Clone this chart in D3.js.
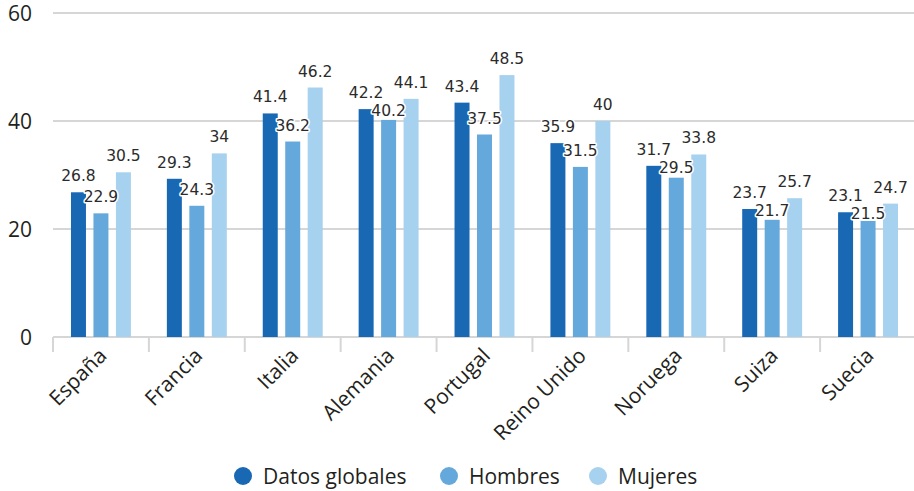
<!DOCTYPE html>
<html>
<head>
<meta charset="utf-8">
<script src="https://cdn.jsdelivr.net/npm/d3@7"></script>
<style>
  html, body { margin: 0; padding: 0; background: #fff; }
  svg { display: block; }
</style>
</head>
<body>
<svg id="chart" width="914" height="491"></svg>
<script>
// Countries along the x axis
const categories = ["España", "Francia", "Italia", "Alemania", "Portugal", "Reino Unido", "Noruega", "Suiza", "Suecia"];
// Series names, shown in the legend
const seriesNames = ["Datos globales", "Hombres", "Mujeres"];
// Values per series, one per country
const datosGlobales = [26.8, 29.3, 41.4, 42.2, 43.4, 35.9, 31.7, 23.7, 23.1];
const hombres       = [22.9, 24.3, 36.2, 40.2, 37.5, 31.5, 29.5, 21.7, 21.5];
const mujeres       = [30.5, 34, 46.2, 44.1, 48.5, 40, 33.8, 25.7, 24.7];
// Y axis ticks
const yTicks = [0, 20, 40, 60];

const seriesValues = [datosGlobales, hombres, mujeres];
const colors = ["#1868b4", "#64a8dc", "#a6d1ef"];

const svg = d3.select("#chart");
const plotLeft = 53, plotRight = 916, plotTop = 13, plotBottom = 337;
const axisFont = "'Open Sans', sans-serif";

const x = d3.scaleBand().domain(categories).range([plotLeft, plotRight]).padding(0);
const x1 = d3.scaleBand().domain(seriesNames).range([0, x.bandwidth()])
  .paddingInner(1 / 3).paddingOuter(0.8);
const y = d3.scaleLinear().domain([0, 60]).range([plotBottom, plotTop]);

// Horizontal gridlines
svg.append("g")
  .selectAll("line")
  .data(yTicks)
  .join("line")
  .attr("x1", plotLeft).attr("x2", 914)
  .attr("y1", d => y(d)).attr("y2", d => y(d))
  .attr("stroke", "#d6d6d6")
  .attr("stroke-width", 2);

// Y tick labels
svg.append("g")
  .selectAll("text")
  .data(yTicks)
  .join("text")
  .attr("x", 32)
  .attr("y", d => y(d))
  .attr("dy", "0.36em")
  .attr("text-anchor", "end")
  .attr("font-family", axisFont)
  .attr("font-size", 21)
  .attr("fill", "#231f20")
  .text(d => d);

// Category separators below the baseline
const bounds = categories.map(c => x(c));
svg.append("g")
  .selectAll("line")
  .data(bounds)
  .join("line")
  .attr("x1", d => d).attr("x2", d => d)
  .attr("y1", plotBottom).attr("y2", plotBottom + 15)
  .attr("stroke", "#d6d6d6")
  .attr("stroke-width", 2);

// Bars
const labelGap = 11;      // baseline distance above the bar top
const labelHeight = 12;   // approximate digit height
const labelSpacing = 6;   // minimum gap between stacked labels
const rows = categories.map((c, i) => {
  const vals = seriesNames.map((s, j) => {
    const v = seriesValues[j][i];
    return { s, j, v, ly: y(v) - labelGap };
  });
  // the middle label overlaps its neighbours horizontally; push it below them
  const mid = vals[1];
  const limit = Math.max(vals[0].ly, vals[2].ly) + labelSpacing + labelHeight;
  if (mid.ly < limit) mid.ly = limit;
  return { cat: c, vals };
});

const groups = svg.append("g")
  .selectAll("g")
  .data(rows)
  .join("g")
  .attr("transform", d => `translate(${x(d.cat)},0)`);

groups.selectAll("rect")
  .data(d => d.vals)
  .join("rect")
  .attr("x", d => x1(d.s))
  .attr("width", x1.bandwidth())
  .attr("y", d => y(d.v))
  .attr("height", d => y(0) - y(d.v))
  .attr("fill", d => colors[d.j]);

// Value labels, drawn with a white halo
groups.selectAll("text")
  .data(d => d.vals)
  .join("text")
  .attr("x", d => x1(d.s) + x1.bandwidth() / 2)
  .attr("y", d => d.ly)
  .attr("text-anchor", "middle")
  .attr("font-family", "'DejaVu Sans', sans-serif")
  .attr("font-size", 15.5)
  .attr("fill", "#2b2b2b")
  .attr("stroke", "#fff")
  .attr("stroke-width", 3)
  .attr("paint-order", "stroke")
  .attr("stroke-linejoin", "round")
  .text(d => d.v);

// Rotated country labels
svg.append("g")
  .selectAll("text")
  .data(categories)
  .join("text")
  .attr("transform", d => `translate(${x(d) + x.bandwidth() / 2 + 7},357) rotate(-45)`)
  .attr("text-anchor", "end")
  .attr("font-family", axisFont)
  .attr("font-size", 21)
  .attr("fill", "#231f20")
  .text(d => d);

// Legend
const legendX = [243, 449, 598];
const legend = svg.append("g")
  .selectAll("g")
  .data(seriesNames)
  .join("g")
  .attr("transform", (d, i) => `translate(${legendX[i]},476)`);
legend.append("circle")
  .attr("r", 9)
  .attr("fill", (d, i) => colors[i]);
legend.append("text")
  .attr("x", 20)
  .attr("dy", "0.36em")
  .attr("font-family", axisFont)
  .attr("font-size", 21)
  .attr("fill", "#231f20")
  .text(d => d);
</script>
</body>
</html>
